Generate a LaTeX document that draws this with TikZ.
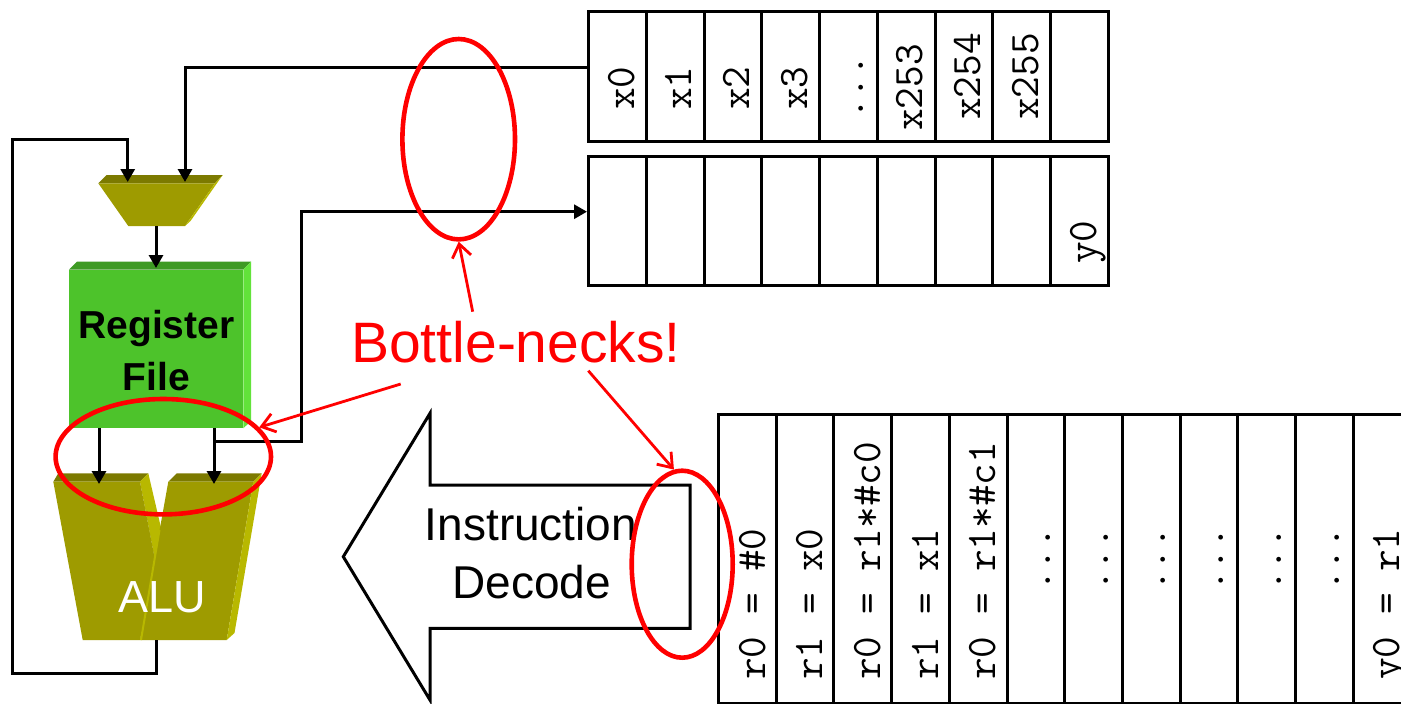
\documentclass[tikz,border=0pt]{standalone}
\usepackage{fontspec}
\setmainfont{Liberation Sans}
\usetikzlibrary{arrows.meta,shapes.geometric}

% datapath block colours
\definecolor{aluface}{RGB}{158,155,0}
\definecolor{alutop}{RGB}{124,122,0}
\definecolor{aluside}{RGB}{184,184,0}
\definecolor{rfface}{RGB}{77,195,43}
\definecolor{rftop}{RGB}{62,154,36}
\definecolor{rfside}{RGB}{98,226,58}

\begin{document}
\begin{tikzpicture}[x=1pt,y=-1pt,
  wire/.style={line width=3pt,line join=miter},
  feed/.style={wire,-{Triangle[length=13pt,width=14pt]}},
  regcell/.style={draw,line width=3pt,minimum width=57.78pt,minimum height=129.5pt,anchor=north west,inner sep=0pt},
  opcell/.style={draw,line width=3pt,minimum width=57.7pt,minimum height=289pt,anchor=north west,inner sep=0pt},
  slot/.style={rotate=90,anchor=base west,inner sep=0pt,font=\ttfamily\fontsize{42}{42}\selectfont},
  ring/.style={ellipse,draw=red,line width=4.6pt,inner sep=0pt},
  callout/.style={draw=red,line width=2.8pt,-{Straight Barb[length=13pt,width=19pt]}},
  label/.style={anchor=base,inner sep=0pt},
]
\useasboundingbox (0,0) rectangle (1401,704);
\begin{scope}
\clip (0,0) rectangle (1401,704);

% ---------- input vector x and output vector y ----------
\foreach \i in {0,...,8} {
  \node[regcell] (xc\i) at ({587+57.78*\i},10) {};
  \node[regcell] (yc\i) at ({587+57.78*\i},154.5) {};
}
\foreach \i/\lab/\b in {0/x0/110,1/x1/110,2/x2/110,3/x3/110,5/x253/131,6/x254/120,7/x255/120}
  \node[slot] (xl\i) at ({587+57.78*\i+47},\b) {\lab};
\node[slot] (xdots) at ({587+57.78*4+45},120) {...};
\node[slot] (yl8) at ({587+57.78*8+47},264) {y0};

% ---------- instruction stream ----------
\foreach \i in {0,...,12}
  \node[opcell] (ic\i) at ({717+57.7*\i},413) {};
\foreach \i/\lab in {0/{r0 = \#0},1/{r1 = x0},2/{r0 = r1*\#c0},3/{r1 = x1},4/{r0 = r1*\#c1},11/{y0 = r1}}
  \node[slot] (il\i) at ({717+57.7*\i+48},680) {\lab};
\foreach \i in {5,...,10}
  \node[slot] (id\i) at ({717+57.7*\i+45},592) {...};

% ---------- multiplexer ----------
\fill[alutop] (98.3,183.3) -- (106.7,175) -- (222.7,175) -- (215,183.3) -- cycle;
\fill[aluface] (98.3,183.3) -- (215,183.3) -- (185,226) -- (128.3,226) -- cycle;
\fill[aluside] (215,183.3) -- (222.7,175) -- (190.5,221) -- (185,226) -- cycle;

% ---------- register file ----------
\fill[rftop] (69,269.7) -- (77,261.7) -- (251,261.7) -- (243.3,269.7) -- cycle;
\fill[rfface] (69,269.7) rectangle (243.3,428.3);
\fill[rfside] (243.3,269.7) -- (251,261.7) -- (251,421) -- (243.3,428.3) -- cycle;
\node[label,font=\bfseries\fontsize{39}{39}\selectfont] (rfA) at (156.5,338.3) {Register};
\node[label,font=\bfseries\fontsize{39}{39}\selectfont] (rfB) at (156.5,390) {File};

% ---------- ALU (two halves) ----------
\fill[alutop] (53.3,481.7) -- (58.3,473.3) -- (148.3,473.3) -- (140,481.7) -- cycle;
\fill[aluside] (140,481.7) -- (148.3,473.3) -- (162,532) -- (156,566) -- cycle;
\fill[aluface] (53.3,481.7) -- (140,481.7) -- (156,565) -- (140,640) -- (82.7,640) -- cycle;
\fill[alutop] (168.3,481.7) -- (176.7,473.3) -- (261.7,473.3) -- (253.3,481.7) -- cycle;
\fill[aluface] (168.3,481.7) -- (253.3,481.7) -- (226.7,640) -- (140,640) -- cycle;
\fill[aluside] (253.3,481.7) -- (261.7,473.3) -- (234.5,633) -- (226.7,640) -- cycle;
\draw[aluside,line width=2pt] (159.5,530) -- (141,640);
\node[label,text=white,font=\fontsize{45}{45}\selectfont] (aluText) at (162,612.3) {ALU};

% ---------- wiring ----------
\coordinate (muxA) at (127.7,182);
\coordinate (muxB) at (185,182);
\coordinate (muxOut) at (156,226);
\coordinate (rfIn) at (156,268);
\coordinate (rfOutA) at (99,428.3);
\coordinate (rfOutB) at (214,428.3);
\coordinate (aluA) at (99,484);
\coordinate (aluB) at (214,484);
\coordinate (aluOut) at (156.7,640);
\coordinate (xTap) at (587,67.5);
\coordinate (yTap) at (587,211.7);
\coordinate (rfTap) at (214,441.7);

\draw[feed] (aluOut) -- (156.7,673) -- (12.3,673) -- (12.3,139.3) -- (127.7,139.3) -- (muxA);
\draw[feed] (xTap) -- (185,67.5) -- (muxB);
\draw[feed] (muxOut) -- (rfIn);
\draw[feed] (rfOutA) -- (aluA);
\draw[feed] (rfOutB) -- (aluB);
\draw[feed] (rfTap) -- (301,441.7) -- (301,211.7) -- (yTap);

% ---------- instruction decode arrow ----------
\draw[line width=3pt,fill=white,line join=miter] (690,485) -- (430,485) -- (430,413.3) -- (343.3,556.7)
  -- (430,700) -- (430,628.3) -- (690,628.3) -- cycle;
\node[label,font=\fontsize{46}{46}\selectfont] (decA) at (531,540) {Instruction};
\node[label,font=\fontsize{46}{46}\selectfont] (decB) at (531.7,598.3) {Decode};

% ---------- bottleneck annotations ----------
\node[ring,minimum width=112.6,minimum height=200.4] (ringX) at (458.7,139.2) {};
\node[ring,minimum width=215.4,minimum height=115.4] (ringRF) at (163.3,456.7) {};
\node[ring,minimum width=101,minimum height=187] (ringID) at (682.2,564.2) {};
\node[label,text=red,font=\fontsize{57}{57}\selectfont] (neckText) at (516,362.7) {Bottle-necks!};
\coordinate (cA) at (472.7,311.7);
\coordinate (cB) at (400.7,384);
\coordinate (cC) at (588.3,370.7);
\draw[callout] (cA) -- (ringX.south);
\draw[callout] (cB) -- (ringRF);
\draw[callout] (cC) -- (ringID.95);
\end{scope}
\end{tikzpicture}
\end{document}
